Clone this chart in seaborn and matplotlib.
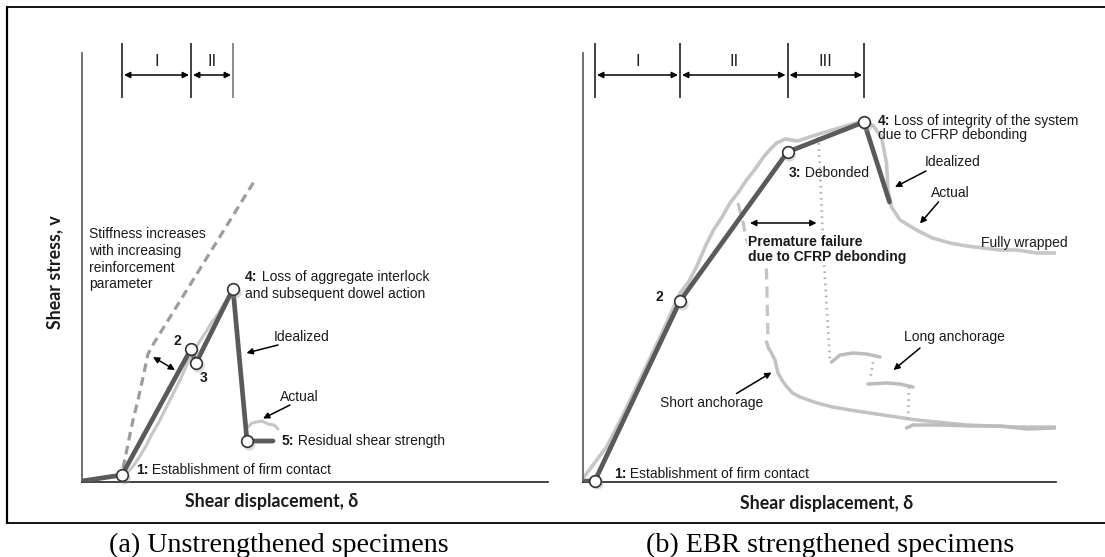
import matplotlib
matplotlib.use("Agg")
import matplotlib.pyplot as plt
import matplotlib.transforms as mtransforms
from matplotlib.lines import Line2D
import seaborn as sns

sns.set_theme(style="white")
plt.rcParams["font.family"] = ["Liberation Sans", "DejaVu Sans"]

# ---------------- (a) Unstrengthened specimens ----------------
# shear displacement / shear stress in arbitrary units
a_ideal_x = [0, 40, 109, 114, 151, 165, 191]
a_ideal_y = [1, 7, 133, 119, 193, 41, 41]
a_stage_pts = [1, 2, 3, 4, 5]            # indices of numbered stages
a_stage_marks = [1, 2, 4]                # boundaries of regions I, II
a_stage_names = ["I", "II"]
a_stiff_x = [41, 44, 47, 51, 56, 60, 63, 66, 72, 173]
a_stiff_y = [14, 28, 43, 62, 82, 100, 114, 128, 139, 302]
a_actual_x = [41, 46, 52, 58, 64, 70, 77, 84, 92, 99, 106, 112, 118, 124, 130, 136, 142, 147, 150]
a_actual_y = [8, 10, 17, 26, 36, 48, 60, 74, 90, 104, 120, 131, 141, 150, 160, 168, 178, 185, 190]
a_resid_x = [166, 170, 175, 180, 186, 192, 196]
a_resid_y = [55, 59, 60, 61, 58, 57, 53]

# ---------------- (b) EBR strengthened specimens ----------------
b_ideal_x = [0, 12.5, 97.5, 205, 281.5, 307]
b_ideal_y = [0.5, 1.5, 181, 330, 360, 280]
b_stage_pts = [1, 2, 3, 4]
b_stage_marks = [1, 2, 3, 4]
b_stage_names = ["I", "II", "III"]
b_wrap_x = [0, 6, 12, 24, 40, 60, 80, 97, 106, 114, 123, 131, 139, 147.5, 156, 164, 172, 181, 188, 194,
            203, 215, 230, 250, 270, 282, 291, 299, 304, 305.5, 309, 317.5, 334, 350, 367.5,
            384, 400.5, 418, 434, 454, 472.5]
b_wrap_y = [3, 11, 19, 35, 66, 108, 150, 188, 200, 215, 236, 252, 264, 279, 290, 302, 312, 325, 333, 339,
            343, 341, 346, 352, 358, 361, 356, 345, 319, 292, 275, 262, 252, 244, 239,
            236, 234, 232, 232, 229, 229]
b_short_drop_x = [155.5, 161, 163, 170, 184, 185.5]
b_short_drop_y = [279, 258, 245, 228, 212, 142]
b_short_x = [184, 186, 189, 192.5, 195.5, 200, 204.5, 210, 217.5, 234.5, 250, 267.5, 300.5, 334.5,
             384.5, 434.5, 472.5]
b_short_y = [140, 134, 129, 122, 109, 101, 95, 89, 85, 79, 75, 72, 67, 62, 57, 55, 55]
b_long_drops = [([236, 241, 247.5], [345, 230, 120]),
                ([290.5, 287.5], [120, 102]),
                ([326.5, 325.5], [95, 60])]
b_long_steps = [([249, 257.5, 270.5, 284, 297.5], [120, 127, 129, 128, 125]),
                ([285.5, 304, 317.5, 330.5], [98, 99, 98, 95]),
                ([324, 330.5, 360, 390, 417.5, 445, 472.5], [54, 57, 57, 56, 56, 53, 54])]

IDEAL = "#5a5a5a"
ACTUAL = "#c6c6c6"
TEXT = "#1a1a1a"
FS = 10

W, H = 1105, 557
fig = plt.figure(figsize=(W / 100, H / 100), dpi=100)


def px_axes(x0, x1, y_top, y_bot):
    return fig.add_axes([x0 / W, 1 - y_bot / H, (x1 - x0) / W, (y_bot - y_top) / H])


ax_a = px_axes(82, 548, 53, 482)
ax_b = px_axes(582.5, 1055.5, 53, 482)
ax_a.set_xlim(0, 466)
ax_b.set_xlim(0, 473)
for ax in (ax_a, ax_b):
    ax.set_ylim(0, 429)
    ax.set_xticks([])
    ax.set_yticks([])
    ax.patch.set_alpha(0)
    for s in ("top", "right"):
        ax.spines[s].set_visible(False)
    ax.spines["left"].set_color("#666666")
    ax.spines["left"].set_linewidth(1.3)
    ax.spines["bottom"].set_color("#222222")
    ax.spines["bottom"].set_linewidth(1.2)


def curve(ax, x, y, color, lw, ls="-", z=2):
    sns.lineplot(x=x, y=y, ax=ax, sort=False, estimator=None, color=color,
                 linewidth=lw, linestyle=ls, zorder=z, solid_capstyle="round",
                 dash_capstyle="butt", legend=False)


def stage_points(ax, xs, ys):
    shadow = mtransforms.offset_copy(ax.transData, fig=fig, x=1.2, y=-1.8, units="points")
    ax.scatter(xs, ys, s=78, color="#9a9a9a", alpha=0.35, linewidths=0,
               transform=shadow, zorder=5, clip_on=False)
    sns.scatterplot(x=xs, y=ys, ax=ax, s=70, color="white", edgecolor="#333333",
                    linewidth=1.2, zorder=6, clip_on=False, legend=False)


def arrow(ax, start, end, style="-|>"):
    ax.annotate("", xy=end, xytext=start, annotation_clip=False,
                arrowprops=dict(arrowstyle=style, color="black", lw=1.1,
                                mutation_scale=9, shrinkA=0, shrinkB=0), zorder=7)


def lead_text(ax, x, y, lead, rest, **kw):
    t = ax.text(x, y, lead, fontweight="bold", fontsize=FS, color=TEXT,
                ha="left", va="center", zorder=8, **kw)
    ax.annotate(rest, xy=(1, 0), xycoords=t, ha="left", va="bottom",
                fontsize=FS, color=TEXT, zorder=8, **kw)
    return t


def stage_bands(ax, xs, names, tones):
    for x, c in zip(xs, tones):
        ax.vlines(x, 384, 439, color=c, lw=1.2, clip_on=False)
    for x0, x1, name in zip(xs[:-1], xs[1:], names):
        arrow(ax, (x0 + 2, 407), (x1 - 2, 407), style="<|-|>")
        ax.text((x0 + x1) / 2, 420, name, ha="center", va="center",
                fontsize=12, color="#222222")


# ---- panel (a)
curve(ax_a, a_stiff_x, a_stiff_y, "#9c9c9c", 2.3, ls=(0, (2.7, 1.7)), z=2)
curve(ax_a, a_actual_x, a_actual_y, ACTUAL, 2.2, z=2)
curve(ax_a, a_resid_x, a_resid_y, ACTUAL, 2.2, z=2)
curve(ax_a, a_ideal_x, a_ideal_y, IDEAL, 3.4, z=3)
stage_points(ax_a, [a_ideal_x[i] for i in a_stage_pts], [a_ideal_y[i] for i in a_stage_pts])
stage_bands(ax_a, [a_ideal_x[i] for i in a_stage_marks], a_stage_names,
            ["#222222", "#222222", "#777777"])

ax_a.text(7, 255, "Stiffness increases\nwith increasing\nreinforcement\nparameter",
          fontsize=FS, color=TEXT, ha="left", va="top", linespacing=1.25)
arrow(ax_a, (71, 125), (93, 112), style="<|-|>")
ax_a.text(95, 141, "2", fontweight="bold", fontsize=FS, color=TEXT, ha="center", va="center")
ax_a.text(122, 104, "3", fontweight="bold", fontsize=FS, color=TEXT, ha="center", va="center")
lead_text(ax_a, 163, 205, "4:", " Loss of aggregate interlock")
ax_a.text(163, 188, "and subsequent dowel action", fontsize=FS, color=TEXT, ha="left", va="center")
ax_a.text(192, 145, "Idealized", fontsize=FS, color=TEXT, ha="left", va="center")
arrow(ax_a, (196, 137), (164.5, 129))
ax_a.text(198, 85, "Actual", fontsize=FS, color=TEXT, ha="left", va="center")
arrow(ax_a, (208, 77), (181, 63.5))
lead_text(ax_a, 200, 41, "5:", " Residual shear strength")
lead_text(ax_a, 54, 11.5, "1:", " Establishment of firm contact")

# ---- panel (b)
curve(ax_b, b_short_drop_x, b_short_drop_y, "#c4c4c4", 2.3, ls=(0, (3.5, 2.2)), z=2)
curve(ax_b, b_short_x, b_short_y, "#c2c2c2", 2.5, z=2)
for dx, dy in b_long_drops:
    curve(ax_b, dx, dy, "#b4b4b4", 2.0, ls=(0, (0.6, 1.6)), z=2)
for sx, sy in b_long_steps:
    curve(ax_b, sx, sy, "#bcbcbc", 2.5, z=2)
curve(ax_b, b_wrap_x, b_wrap_y, ACTUAL, 2.6, z=2)
curve(ax_b, b_ideal_x, b_ideal_y, IDEAL, 3.4, z=3)
stage_points(ax_b, [b_ideal_x[i] for i in b_stage_pts], [b_ideal_y[i] for i in b_stage_pts])
stage_bands(ax_b, [b_ideal_x[i] for i in b_stage_marks], b_stage_names,
            ["#222222", "#222222", "#222222", "#222222"])

ax_b.text(77, 185, "2", fontweight="bold", fontsize=FS, color=TEXT, ha="center", va="center")
lead_text(ax_b, 206, 309, "3:", " Debonded")
lead_text(ax_b, 295, 361, "4:", " Loss of integrity of the system")
ax_b.text(295, 347, "due to CFRP debonding", fontsize=FS, color=TEXT, ha="left", va="center")
ax_b.text(342.5, 320, "Idealized", fontsize=FS, color=TEXT, ha="left", va="center")
arrow(ax_b, (343.5, 311), (312.5, 295))
ax_b.text(348.5, 289, "Actual", fontsize=FS, color=TEXT, ha="left", va="center")
arrow(ax_b, (356, 280), (337.5, 258.5))
ax_b.text(398.5, 239, "Fully wrapped", fontsize=FS, color=TEXT, ha="left", va="center")
ax_b.text(165, 232.5, "Premature failure\ndue to CFRP debonding", fontsize=FS, fontweight="bold",
          color=TEXT, ha="left", va="center", linespacing=1.15, zorder=8,
          bbox=dict(facecolor="white", edgecolor="none", pad=0.3))
arrow(ax_b, (167.5, 259), (234, 259), style="<|-|>")
ax_b.text(321.5, 145, "Long anchorage", fontsize=FS, color=TEXT, ha="left", va="center")
arrow(ax_b, (337.5, 134), (311, 112))
ax_b.text(78, 79.5, "Short anchorage", fontsize=FS, color=TEXT, ha="left", va="center")
arrow(ax_b, (154, 88.5), (189, 109.5))
lead_text(ax_b, 31.5, 8, "1:", " Establishment of firm contact")

# ---- axis titles
lab = dict(family=["Lato", "DejaVu Sans"], fontweight="bold", fontsize=12.8, color=TEXT,
           ha="center", va="center")
ax_a.text((55 - 82) / 466, (482 - 272) / 429, "Shear stress, v", rotation=90,
          transform=ax_a.transAxes, **lab)
ax_a.text((272 - 82) / 466, (482 - 502) / 429, "Shear displacement, δ",
          transform=ax_a.transAxes, **lab)
ax_b.text((827 - 582.5) / 473, (482 - 504) / 429, "Shear displacement, δ",
          transform=ax_b.transAxes, **lab)

# ---- captions and frame
cap = dict(family=["Liberation Serif", "DejaVu Serif"], fontsize=20.2, color="black",
           ha="center", va="center")
fig.text(279 / W, 1 - 545 / H, "(a) Unstrengthened specimens", **cap)
fig.text(830 / W, 1 - 545 / H, "(b) EBR strengthened specimens", **cap)


def frame_line(xs, ys, lw):
    fig.add_artist(Line2D([x / W for x in xs], [1 - y / H for y in ys],
                          color="black", lw=lw, transform=fig.transFigure))


frame_line([7, 1105], [7, 7], 1.3)
frame_line([7, 7], [7, 523], 1.6)
frame_line([7, 1105], [523, 523], 1.3)

fig.savefig("out.png", dpi=100, facecolor="white")
